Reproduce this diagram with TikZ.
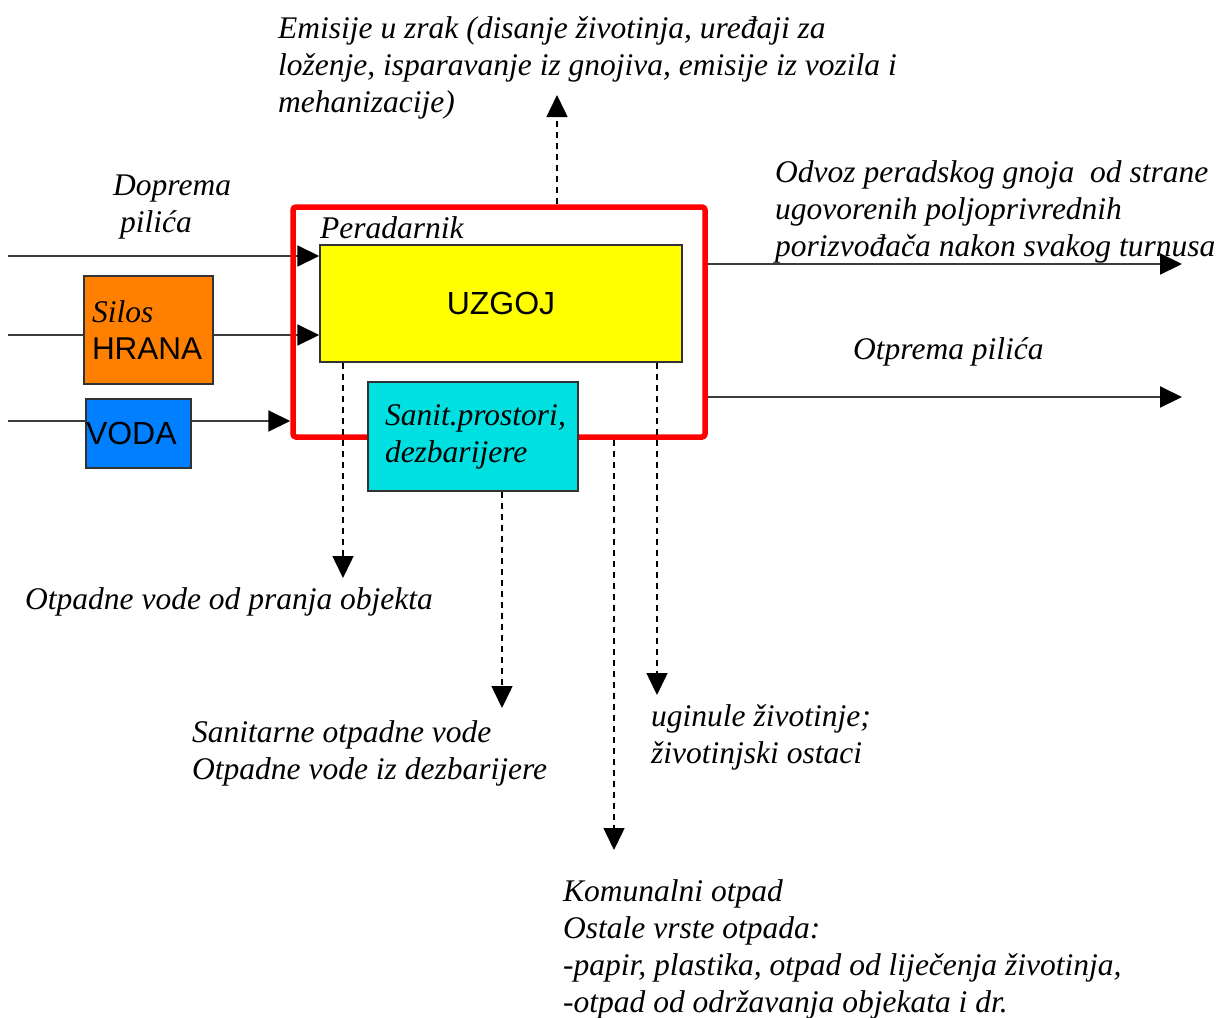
\documentclass[tikz,border=0pt]{standalone}
\usepackage{fontspec}
\setmainfont{Liberation Serif}
\newfontfamily\sansA{Liberation Sans}
\usetikzlibrary{arrows.meta}
\pgfdeclarelayer{bg}
\pgfsetlayers{bg,main}
\definecolor{orangebox}{RGB}{255,128,0}
\definecolor{bluebox}{RGB}{0,128,255}
\definecolor{cyanbox}{RGB}{0,224,224}
\definecolor{yellowbox}{RGB}{255,255,0}
\definecolor{boxline}{RGB}{50,50,50}
\definecolor{flowline}{RGB}{60,60,60}
\tikzset{
  lbl/.style={font=\fontsize{31.5}{37}\selectfont\itshape, align=left, inner sep=0pt, anchor=west},
  sbox/.style={draw=boxline, line width=1.5pt},
  sanstext/.style={font=\sansA\fontsize{32}{37}\selectfont},
  flow/.style={draw=flowline, line width=2pt, -{Triangle[length=22pt,width=21pt,color=black]}},
  dflow/.style={draw=black, line width=1.5pt, dash pattern=on 6pt off 5pt, -{Triangle[length=22pt,width=21pt,sep=0pt]}},
}
\begin{document}
\begin{tikzpicture}[x=1pt,y=-1pt]
\useasboundingbox (0,0) rectangle (1222,1017);

% boxes
\node[draw=red, line width=5.5pt, rounded corners=3pt, minimum width=412pt, minimum height=230pt, inner sep=0pt] (red) at (499,322) {};
\node[sbox, fill=yellowbox, minimum width=362pt, minimum height=117pt, inner sep=0pt, sanstext] (uzgoj) at (501,303.5) {UZGOJ};
\node[sbox, fill=cyanbox, minimum width=210pt, minimum height=109pt, inner xsep=17pt, inner ysep=0pt, text width=176pt, align=left, font=\fontsize{31.5}{37}\selectfont\itshape] (sanpro) at (473,436.5) {Sanit.prostori,\\dezbarijere};
\node[sbox, fill=orangebox, minimum width=129pt, minimum height=108pt, inner xsep=8pt, inner ysep=0pt, text width=113pt, align=left, font=\fontsize{31.5}{37}\selectfont] (silos) at (148.5,330) {\textit{Silos}\\{\sansA HRANA}};
\node[sbox, fill=bluebox, minimum width=105pt, minimum height=69pt, inner xsep=0pt, inner ysep=0pt, text width=105pt, align=left, sanstext] (voda) at (138.5,433.5) {VODA};

% free ends
\coordinate (a1) at (8,256);
\coordinate (a2) at (8,335);
\coordinate (a3) at (8,421);
\coordinate (o1) at (1182,264);
\coordinate (o2) at (1182,397);
\coordinate (e1) at (557,95);
\coordinate (d1) at (343,578);
\coordinate (d2) at (502,708);
\coordinate (d3) at (657,695);
\coordinate (d4) at (614,850);

\begin{pgfonlayer}{bg}
\draw[flow] (a1) -- (a1 -| uzgoj.west);
\draw[flow] (a2) -- (a2 -| uzgoj.west);
\draw[flow] (a3) -- (a3 -| red.west);
\end{pgfonlayer}
\draw[flow] (o1 -| red.east) -- (o1);
\draw[flow] (o2 -| red.east) -- (o2);

\draw[dflow] (e1 |- red.north) -- (e1);
\draw[dflow] (d1 |- uzgoj.south) -- (d1);
\draw[dflow] (d2 |- sanpro.south) -- (d2);
\draw[dflow] (d3 |- uzgoj.south) -- (d3);
\draw[dflow] (d4 |- red.south) -- (d4);

% labels
\node[lbl] (emis) at (278,68) {Emisije u zrak (disanje životinja, uređaji za\\ loženje, isparavanje iz gnojiva, emisije iz vozila i\\ mehanizacije)};
\node[lbl] (dop) at (113,207) {Doprema\\\hspace*{7pt}pilića};
\node[lbl] (perad) at (320,228) {Peradarnik};
\node[lbl] (odvoz) at (775,212) {Odvoz peradskog gnoja\ \ od strane\\ ugovorenih poljoprivrednih\\ porizvođača nakon svakog turnusa};
\node[lbl] (otpr) at (853,352) {Otprema pilića};
\node[lbl] (otpvod) at (25,602) {Otpadne vode od pranja objekta};
\node[lbl] (sanit) at (192,753) {Sanitarne otpadne vode\\ Otpadne vode iz dezbarijere};
\node[lbl] (ugin) at (651,737) {uginule životinje;\\ životinjski ostaci};
\node[lbl] (komun) at (563,949) {Komunalni otpad\\ Ostale vrste otpada:\\ -papir, plastika, otpad od liječenja životinja,\\ -otpad od održavanja objekata i dr.};
\end{tikzpicture}
\end{document}
